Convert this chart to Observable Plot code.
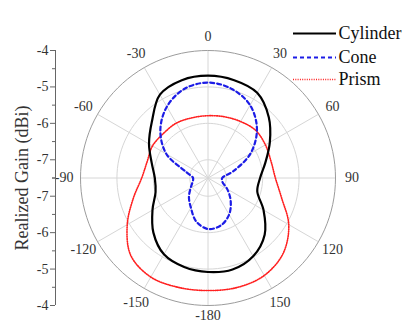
<!DOCTYPE html>
<html>
<head>
<meta charset="utf-8">
<script src="https://cdn.jsdelivr.net/npm/d3@7"></script>
<script src="https://cdn.jsdelivr.net/npm/@observablehq/plot@0.6"></script>
<style>
  html, body { margin: 0; padding: 0; background: #fff; }
  #chart svg { display: block; }
  #chart svg, #chart svg text { font-family: "Liberation Serif", "Times New Roman", serif !important; }
</style>
</head>
<body>
<div id="chart"></div>
<script>
// ---- data ----
const angles = [-165,-150,-135,-120,-105,-90,-75,-60,-45,-30,-15,0,15,30,45,60,75,90,105,120,135,150,165,180];
const cylinder = [-4.97,-5.08,-5.38,-5.74,-6.01,-6.04,-5.90,-5.63,-5.32,-4.86,-4.72,-4.69,-4.72,-4.80,-5.14,-5.54,-5.87,-6.07,-6.10,-5.74,-5.30,-5.02,-4.90,-4.92];
const cone     = [-6.26,-6.56,-6.76,-6.95,-7.06,-7.09,-6.89,-6.18,-5.65,-5.24,-4.97,-4.88,-4.97,-5.19,-5.60,-6.15,-6.78,-7.11,-7.09,-6.89,-6.62,-6.34,-6.15,-6.10];
const prism    = [-4.39,-4.36,-4.50,-4.94,-5.38,-5.68,-5.77,-5.74,-5.77,-5.76,-5.79,-5.79,-5.76,-5.71,-5.65,-5.68,-5.71,-5.65,-5.41,-4.94,-4.58,-4.41,-4.39,-4.41];
const seriesNames = ["Cylinder", "Cone", "Prism"];
const angleTicks = [0, 30, 60, 90, 120, 150, 180, -150, -120, -90, -60, -30];
const angleLabels = ["0", "30", "60", "90", "120", "150", "-180", "-150", "-120", "-90", "-60", "-30"];
const gainTicks = [-4, -5, -6, -7];
const gainMinor = [-4.5, -5.5, -6.5, -7.5];
const gainMin = -7.5, gainMax = -4;
const axisTitle = "Realized Gain (dBi)";

// ---- helpers ----
const R = gainMax - gainMin;
function pol(a, v) {
  const r = v - gainMin, t = a * Math.PI / 180;
  return {x: r * Math.sin(t), y: r * Math.cos(t)};
}
const rows = (vals) => angles.map((a, i) => pol(a, vals[i]));
const unit = 255 / (2 * R); // px per unit
const toY = (py) => (177.5 - py) / unit;
const toX = (px) => (px - 207.5) / unit;

const circleAngles = d3.range(0, 360, 3);
const gridRows = gainTicks.flatMap(g => circleAngles.map(a => ({g, ...pol(a, g)})));
const innerGrid = gridRows.filter(d => d.g !== gainMax);
const outerGrid = gridRows.filter(d => d.g === gainMax);
const spokes = d3.range(0, 360, 30).map(a => ({a, ...pol(a, gainMax)}));

const yMajor = gainTicks.flatMap(g => [g - gainMin, -(g - gainMin)]);
const yMinor = gainMinor.flatMap(g => [g - gainMin, -(g - gainMin)]);
const fmt = t => String(Math.round((gainMin + Math.abs(t)) * 10) / 10);
const labelR = a => (a === 0 ? 3.88 : Math.abs(a) === 180 ? 3.78 : 3.95);

const legendPy = [33, 57, 79];
const font = "'Liberation Serif', 'Times New Roman', serif";
const redDash = "1,1.3";

const chart = Plot.plot({
  width: 406, height: 322,
  marginTop: 50, marginBottom: 17, marginLeft: 80, marginRight: 71,
  style: {fontFamily: font, fontSize: "14px", color: "#222", background: "#fff"},
  x: {domain: [-R, R], axis: null},
  y: {domain: [-R, R], axis: null},
  marks: [
    // grid
    Plot.line(innerGrid, {x: "x", y: "y", z: "g", curve: "linear-closed", stroke: "#d6d6d6", strokeWidth: 1}),
    Plot.link(spokes, {x1: 0, y1: 0, x2: "x", y2: "y", stroke: "#d6d6d6", strokeWidth: 1}),
    Plot.line(outerGrid, {x: "x", y: "y", curve: "linear-closed", stroke: "#9c9c9c", strokeWidth: 1}),
    // angle labels
    Plot.text(angleTicks, {
      x: a => labelR(a) * Math.sin(a * Math.PI / 180),
      y: a => labelR(a) * Math.cos(a * Math.PI / 180),
      text: (d, i) => angleLabels[i], fill: "#333", fontSize: 14, fontFamily: font
    }),
    // radial axis on the left
    Plot.ruleX([-R], {y1: -R, y2: R, dx: -25, stroke: "#666"}),
    Plot.axisY({ticks: yMajor, tickFormat: fmt, anchor: "left", tickSize: 5, tickPadding: 2, dx: -25, label: null, stroke: "#666", fill: "#333", fontSize: 14, fontFamily: font}),
    Plot.axisY({ticks: yMinor, tickFormat: () => "", anchor: "left", tickSize: 3, dx: -25, label: null, stroke: "#666"}),
    Plot.text([axisTitle], {frameAnchor: "left", textAnchor: "middle", dx: -58, rotate: -90, fontSize: 18, fill: "#333", fontFamily: font}),
    // series
    Plot.line(rows(prism), {x: "x", y: "y", curve: "catmull-rom-closed", stroke: "#ff2020", strokeWidth: 1.6, strokeDasharray: redDash}),
    Plot.line(rows(cylinder), {x: "x", y: "y", curve: "catmull-rom-closed", stroke: "#000", strokeWidth: 2.2}),
    Plot.line(rows(cone), {x: "x", y: "y", curve: "catmull-rom-closed", stroke: "#1c1ce6", strokeWidth: 2.2, strokeDasharray: "4,3"}),
    // legend
    Plot.ruleY([toY(legendPy[0])], {x1: toX(293), x2: toX(336), stroke: "#000", strokeWidth: 2.2}),
    Plot.ruleY([toY(legendPy[1])], {x1: toX(293), x2: toX(336), stroke: "#1c1ce6", strokeWidth: 2.2, strokeDasharray: "4,3"}),
    Plot.ruleY([toY(legendPy[2])], {x1: toX(293), x2: toX(336), stroke: "#ff2020", strokeWidth: 1.6, strokeDasharray: redDash}),
    Plot.text(seriesNames, {x: toX(338), y: (d, i) => toY(legendPy[i]), textAnchor: "start", fontSize: 18, fill: "#111", fontFamily: font})
  ]
});
document.getElementById("chart").appendChild(chart);
</script>
</body>
</html>
